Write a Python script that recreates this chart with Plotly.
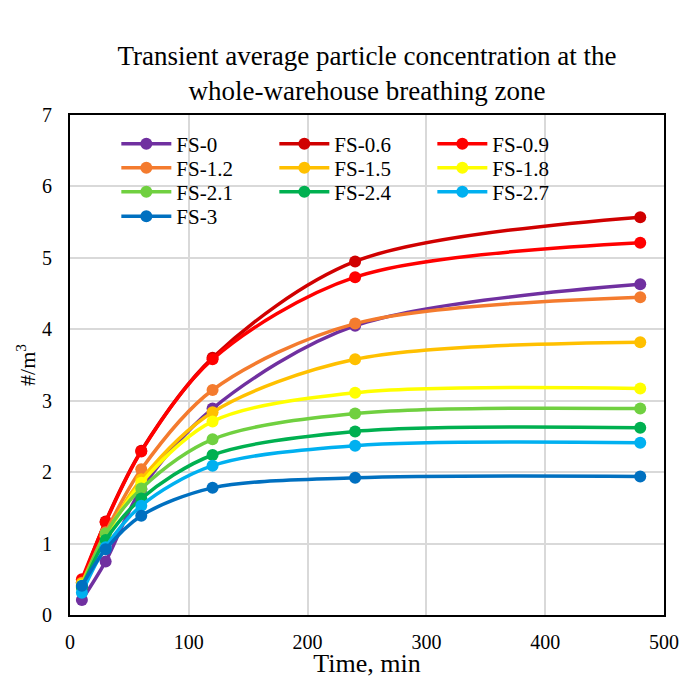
import plotly.graph_objects as go

time_min = [10, 30, 60, 120, 240, 480]

names = ["FS-0", "FS-0.6", "FS-0.9", "FS-1.2", "FS-1.5", "FS-1.8",
         "FS-2.1", "FS-2.4", "FS-2.7", "FS-3"]

fs_0   = [0.21, 0.75, 1.76, 2.89, 4.05, 4.63]
fs_0_6 = [0.46, 1.31, 2.30, 3.60, 4.95, 5.57]
fs_0_9 = [0.50, 1.30, 2.29, 3.58, 4.73, 5.21]
fs_1_2 = [0.45, 1.16, 2.04, 3.15, 4.08, 4.45]
fs_1_5 = [0.44, 1.12, 1.90, 2.84, 3.58, 3.82]
fs_1_8 = [0.42, 1.10, 1.85, 2.71, 3.11, 3.17]
fs_2_1 = [0.40, 1.14, 1.77, 2.46, 2.82, 2.89]
fs_2_4 = [0.38, 1.05, 1.63, 2.24, 2.57, 2.62]
fs_2_7 = [0.31, 0.95, 1.53, 2.09, 2.37, 2.41]
fs_3   = [0.41, 0.92, 1.39, 1.78, 1.92, 1.94]

series = [fs_0, fs_0_6, fs_0_9, fs_1_2, fs_1_5, fs_1_8, fs_2_1, fs_2_4, fs_2_7, fs_3]
colors = ["#7030A0", "#D00000", "#FF0000", "#F47B2E", "#FFC000", "#FFFF00",
          "#70D040", "#00B050", "#00B0F0", "#0070C0"]

FONT = "Liberation Serif"

# legend grid layout (3 columns), each entry its own legend box
col_x = [0.078, 0.344, 0.610]
row_top_px = [123.5, 147.5, 171.5, 196.0]
plot_top, plot_h = 115, 500

fig = go.Figure()
legend_layout = {}
for i, (name, vals, col) in enumerate(zip(names, series, colors)):
    lid = "legend" if i == 0 else f"legend{i + 1}"
    fig.add_trace(go.Scatter(
        x=time_min, y=vals, name=name, mode="lines+markers",
        line=dict(color=col, width=3.5, shape="spline", smoothing=0.9),
        marker=dict(color=col, size=12),
        legend=lid, showlegend=True,
    ))
    r, c = divmod(i, 3)
    legend_layout[lid] = dict(
        x=col_x[c], y=(plot_top + plot_h - row_top_px[r]) / plot_h,
        xanchor="left", yanchor="top", visible=True, itemwidth=50,
        font=dict(family=FONT, size=21, color="black"),
        bgcolor="rgba(0,0,0,0)", borderwidth=0,
    )

fig.update_layout(
    width=686, height=678,
    margin=dict(l=70, r=7, t=115, b=63),
    paper_bgcolor="white", plot_bgcolor="white",
    showlegend=True,
    font=dict(family=FONT, color="black"),
    title=dict(text="Transient average particle concentration at the<br>whole-warehouse breathing zone",
               x=0.5, xanchor="center", xref="paper", y=1 - 65/678, yanchor="top", yref="container",
               font=dict(family=FONT, size=27, color="black")),
    xaxis=dict(range=[0, 500], dtick=100, tick0=0, showgrid=True, gridcolor="#D9D9D9", gridwidth=1.5,
               showline=True, linecolor="black", linewidth=2, mirror=True, zeroline=False,
               ticks="", ticklabelstandoff=8, ticklabeloverflow="allow",
               tickfont=dict(family=FONT, size=20, color="black"),
               title=dict(text="Time, min", font=dict(family=FONT, size=26, color="black"), standoff=0)),
    yaxis=dict(range=[0, 7], dtick=1, tick0=0, showgrid=True, gridcolor="#D9D9D9", gridwidth=1.5,
               showline=True, linecolor="black", linewidth=2, mirror=True, zeroline=False,
               ticks="", ticklabelstandoff=12,
               tickfont=dict(family=FONT, size=20, color="black"),
               title=dict(text="#/m<sup>3</sup>", font=dict(family=FONT, size=22, color="black"), standoff=0)),
    **legend_layout,
)

fig.write_html("out.html")
